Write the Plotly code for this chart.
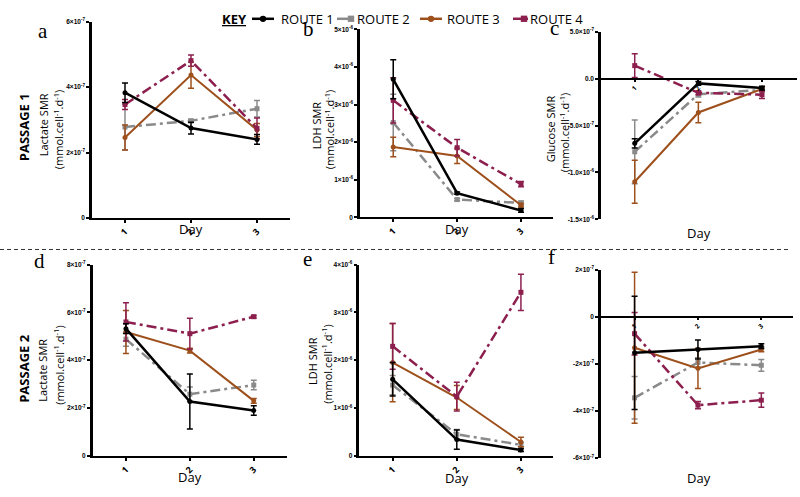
import plotly.graph_objects as go

W, H = 800, 497
days = [1, 2, 3]
route_names = ["ROUTE 1", "ROUTE 2", "ROUTE 3", "ROUTE 4"]

# ---- Panel a: Passage 1, Lactate SMR ----
a_r1 = [3.83e-7, 2.75e-7, 2.40e-7]; a_r1_err = [0.30e-7, 0.18e-7, 0.15e-7]
a_r2 = [2.78e-7, 2.97e-7, 3.34e-7]; a_r2_err = [0.70e-7, 0.05e-7, 0.25e-7]
a_r3 = [2.46e-7, 4.37e-7, 2.69e-7]; a_r3_err = [0.38e-7, 0.40e-7, 0.20e-7]
a_r4 = [3.47e-7, 4.81e-7, 2.74e-7]; a_r4_err = [0.15e-7, 0.17e-7, 0.32e-7]
# ---- Panel b: Passage 1, LDH SMR ----
b_r1 = [3.67e-6, 0.64e-6, 0.18e-6]; b_r1_err = [0.52e-6, 0.03e-6, 0.05e-6]
b_r2 = [2.52e-6, 0.47e-6, 0.38e-6]; b_r2_err = [0.75e-6, 0.03e-6, 0.05e-6]
b_r3 = [1.87e-6, 1.63e-6, 0.32e-6]; b_r3_err = [0.26e-6, 0.20e-6, 0.05e-6]
b_r4 = [3.11e-6, 1.85e-6, 0.88e-6]; b_r4_err = [0.60e-6, 0.22e-6, 0.07e-6]
# ---- Panel c: Passage 1, Glucose SMR ----
c_r1 = [-6.9e-7, -0.5e-7, -1.0e-7]; c_r1_err = [0.5e-7, 0.2e-7, 0.2e-7]
c_r2 = [-7.8e-7, -1.65e-7, -1.2e-7]; c_r2_err = [3.4e-7, 0.3e-7, 0.2e-7]
c_r3 = [-11.0e-7, -3.6e-7, -1.1e-7]; c_r3_err = [2.3e-7, 1.1e-7, 0.2e-7]
c_r4 = [1.4e-7, -1.5e-7, -1.7e-7]; c_r4_err = [1.27e-7, 0.2e-7, 0.4e-7]
# ---- Panel d: Passage 2, Lactate SMR ----
d_r1 = [5.32e-7, 2.27e-7, 1.90e-7]; d_r1_err = [0.20e-7, 1.15e-7, 0.20e-7]
d_r2 = [4.88e-7, 2.58e-7, 2.96e-7]; d_r2_err = [0.30e-7, 0.30e-7, 0.20e-7]
d_r3 = [5.18e-7, 4.40e-7, 2.30e-7]; d_r3_err = [0.90e-7, 0.10e-7, 0.10e-7]
d_r4 = [5.60e-7, 5.11e-7, 5.82e-7]; d_r4_err = [0.80e-7, 0.65e-7, 0.05e-7]
# ---- Panel e: Passage 2, LDH SMR ----
e_r1 = [1.60e-6, 0.34e-6, 0.12e-6]; e_r1_err = [0.35e-6, 0.20e-6, 0.03e-6]
e_r2 = [1.48e-6, 0.45e-6, 0.23e-6]; e_r2_err = [0.20e-6, 0.10e-6, 0.05e-6]
e_r3 = [1.95e-6, 1.22e-6, 0.29e-6]; e_r3_err = [0.82e-6, 0.25e-6, 0.10e-6]
e_r4 = [2.29e-6, 1.24e-6, 3.42e-6]; e_r4_err = [0.48e-6, 0.30e-6, 0.38e-6]
# ---- Panel f: Passage 2, Glucose SMR ----
f_r1 = [-1.53e-7, -1.39e-7, -1.25e-7]; f_r1_err = [2.4e-7, 0.4e-7, 0.1e-7]
f_r2 = [-3.44e-7, -1.94e-7, -2.06e-7]; f_r2_err = [0.9e-7, 0.2e-7, 0.25e-7]
f_r3 = [-1.32e-7, -2.19e-7, -1.39e-7]; f_r3_err = [3.2e-7, 0.85e-7, 0.1e-7]
f_r4 = [-0.72e-7, -3.75e-7, -3.54e-7]; f_r4_err = [0.9e-7, 0.15e-7, 0.3e-7]

# tick labels
a_ticks = [0, 2e-7, 4e-7, 6e-7]
a_labels = ["0", "2×10<sup>-7</sup>", "4×10<sup>-7</sup>", "6×10<sup>-7</sup>"]
b_ticks = [0, 1e-6, 2e-6, 3e-6, 4e-6, 5e-6]
b_labels = ["0", "1×10<sup>-6</sup>", "2×10<sup>-6</sup>", "3×10<sup>-6</sup>", "4×10<sup>-6</sup>", "5×10<sup>-6</sup>"]
c_ticks = [-1.5e-6, -1e-6, -5e-7, 0, 5e-7]
c_labels = ["-1.5×10<sup>-6</sup>", "-1.0×10<sup>-6</sup>", "-5.0×10<sup>-7</sup>", "0.0", "5.0×10<sup>-7</sup>"]
d_ticks = [0, 2e-7, 4e-7, 6e-7, 8e-7]
d_labels = ["0", "2×10<sup>-7</sup>", "4×10<sup>-7</sup>", "6×10<sup>-7</sup>", "8×10<sup>-7</sup>"]
e_ticks = [0, 1e-6, 2e-6, 3e-6, 4e-6]
e_labels = ["0", "1×10<sup>-6</sup>", "2×10<sup>-6</sup>", "3×10<sup>-6</sup>", "4×10<sup>-6</sup>"]
f_ticks = [-6e-7, -4e-7, -2e-7, 0, 2e-7]
f_labels = ["-6×10<sup>-7</sup>", "-4×10<sup>-7</sup>", "-2×10<sup>-7</sup>", "0", "2×10<sup>-7</sup>"]
day_labels = ["1", "2", "3"]

COLORS = ["#000000", "#8a8a8a", "#9e501c", "#8c1f4e"]
DASHES = ["solid", "10px,4px,3px,4px", "solid", "10px,4px,3px,4px"]
SYMBOLS = ["circle", "square", "circle", "square"]
WIDTHS = [2.5, 2.5, 2.0, 2.5]
DRAW_ORDER = [1, 2, 3, 0]

panels = [
    dict(x0=92, x1=290, ytop=18, ybot=217, xr=[0.5, 3.5], yr=[0, 6e-7],
         tv=a_ticks, tt=a_labels, zero=False,
         data=[(a_r1, a_r1_err), (a_r2, a_r2_err), (a_r3, a_r3_err), (a_r4, a_r4_err)]),
    dict(x0=360, x1=553, ytop=25.7, ybot=216.3, xr=[0.48, 3.5], yr=[0, 5e-6],
         tv=b_ticks, tt=b_labels, zero=False,
         data=[(b_r1, b_r1_err), (b_r2, b_r2_err), (b_r3, b_r3_err), (b_r4, b_r4_err)]),
    dict(x0=601, x1=797, ytop=28.3, ybot=218.3, xr=[0.47, 3.55], yr=[-1.5e-6, 5e-7],
         tv=c_ticks, tt=c_labels, zero=True,
         data=[(c_r1, c_r1_err), (c_r2, c_r2_err), (c_r3, c_r3_err), (c_r4, c_r4_err)]),
    dict(x0=92.7, x1=287, ytop=264.3, ybot=458.3, xr=[0.48, 3.52], yr=[0, 8e-7],
         tv=d_ticks, tt=d_labels, zero=False,
         data=[(d_r1, d_r1_err), (d_r2, d_r2_err), (d_r3, d_r3_err), (d_r4, d_r4_err)]),
    dict(x0=359.3, x1=553, ytop=264.3, ybot=458.3, xr=[0.48, 3.5], yr=[0, 4e-6],
         tv=e_ticks, tt=e_labels, zero=False,
         data=[(e_r1, e_r1_err), (e_r2, e_r2_err), (e_r3, e_r3_err), (e_r4, e_r4_err)]),
    dict(x0=601, x1=793, ytop=269.3, ybot=460.7, xr=[0.47, 3.5], yr=[-6e-7, 2e-7],
         tv=f_ticks, tt=f_labels, zero=True,
         data=[(f_r1, f_r1_err), (f_r2, f_r2_err), (f_r3, f_r3_err), (f_r4, f_r4_err)]),
]

fig = go.Figure()
layout = dict(width=W, height=H, margin=dict(l=0, r=0, t=0, b=0),
              paper_bgcolor="white", plot_bgcolor="white", showlegend=False,
              font=dict(family="Open Sans", color="black"))

TICKFONT = dict(family="Liberation Sans", size=6.5, color="black", weight="bold")

for i, p in enumerate(panels, 1):
    sfx = "" if i == 1 else str(i)
    xd = [p["x0"] / W, p["x1"] / W]
    yd = [1 - p["ybot"] / H, 1 - p["ytop"] / H]
    xa = dict(domain=xd, range=p["xr"], showgrid=False, zeroline=False, showline=True,
              linecolor="black", linewidth=2, ticks="outside", ticklen=3, tickwidth=1.5,
              tickcolor="black", tickvals=days, ticktext=day_labels, tickangle=-45,
              tickfont=dict(family="Open Sans", size=9 if not p["zero"] else 6.5,
                            color="black", weight="bold"),
              fixedrange=True)
    if p["zero"]:
        y0, y1 = p["yr"]
        pos = yd[0] + (0 - y0) / (y1 - y0) * (yd[1] - yd[0])
        xa.update(anchor="free", position=pos, ticklen=2)
    else:
        xa.update(anchor="y" + sfx)
    ya = dict(domain=yd, range=p["yr"], showgrid=False, zeroline=False, showline=True,
              linecolor="black", linewidth=2.5, ticks="outside", ticklen=3, tickwidth=1.5,
              tickcolor="black", tickvals=p["tv"], ticktext=p["tt"], tickfont=TICKFONT,
              anchor="x" + sfx, fixedrange=True)
    layout["xaxis" + sfx] = xa
    layout["yaxis" + sfx] = ya
    for k in DRAW_ORDER:
        vals, errs = p["data"][k]
        fig.add_trace(go.Scatter(
            x=days, y=vals, mode="lines+markers", name=route_names[k],
            xaxis="x" + sfx, yaxis="y" + sfx, cliponaxis=False,
            line=dict(color=COLORS[k], width=WIDTHS[k], dash=DASHES[k]),
            marker=dict(symbol=SYMBOLS[k], size=5, color=COLORS[k]),
            error_y=dict(type="data", array=errs, visible=True, color=COLORS[k],
                         thickness=1.5, width=3),
        ))

ann = []
def A(text, x, y, size=11, angle=0, family="Open Sans", anchor="center", **kw):
    ann.append(dict(text=text, x=x / W, y=1 - y / H, xref="paper", yref="paper",
                    showarrow=False, textangle=angle, xanchor=anchor, yanchor="middle",
                    font=dict(family=family, size=size, color="black"), **kw))

# panel letters
for t, x, y in [("a", 43, 27), ("b", 308, 25), ("c", 554, 24),
                ("d", 39, 261), ("e", 307, 259), ("f", 551, 257)]:
    A(t, x, y, size=21, family="Liberation Serif", borderpad=0)

unit = "(mmol.cell<sup>-1</sup>.d<sup>-1</sup>)"
A("<b>PASSAGE 1</b>", 24, 125, size=13, angle=-90)
A("<b>PASSAGE 2</b>", 24, 370, size=13, angle=-90)
A("Lactate SMR", 43, 123, size=11, angle=-90)
A(unit, 59, 127, size=11, angle=-90)
A("LDH SMR", 316, 123, size=11, angle=-90)
A(unit, 330, 127, size=11, angle=-90)
A("Glucose SMR", 550, 127, size=11, angle=-90)
A(unit, 565, 130, size=11, angle=-90)
A("Lactate SMR", 43, 372, size=11, angle=-90)
A(unit, 59, 366, size=11, angle=-90)
A("LDH SMR", 313, 362, size=11, angle=-90)
A(unit, 327, 365, size=11, angle=-90)

for x, y in [(191, 228), (457, 228), (699, 232), (190, 480), (457, 481), (699, 481)]:
    A("Day", x, y, size=13)

# key
A("<b><u>KEY</u></b>", 234, 15, size=13)
leg = [(252, 274, 263, 279), (337, 354, 351, 355), (420, 442, 431, 445), (513, 528, 524, 528)]
shapes = []
for k, (lx0, lx1, mx, tx) in enumerate(leg):
    A(route_names[k], tx, 15, size=13, anchor="left")
    shapes.append(dict(type="line", xref="paper", yref="paper",
                       x0=lx0 / W, x1=lx1 / W, y0=1 - 15 / H, y1=1 - 15 / H,
                       line=dict(color=COLORS[k], width=2.5)))
    r = 3.2
    stype = "circle" if SYMBOLS[k] == "circle" else "rect"
    shapes.append(dict(type=stype, xref="paper", yref="paper",
                       x0=(mx - r) / W, x1=(mx + r) / W, y0=1 - (15 + r) / H, y1=1 - (15 - r) / H,
                       fillcolor=COLORS[k], line=dict(color=COLORS[k], width=0)))

# separator between passages
shapes.append(dict(type="line", xref="paper", yref="paper", x0=0, x1=790 / W,
                   y0=1 - 249 / H, y1=1 - 249 / H, line=dict(color="#333333", width=1, dash="4px,3px")))

layout["annotations"] = ann
layout["shapes"] = shapes
fig.update_layout(**layout)
fig.write_html("out.html", config={"displayModeBar": False},
               post_script="document.body.style.margin='0';")
